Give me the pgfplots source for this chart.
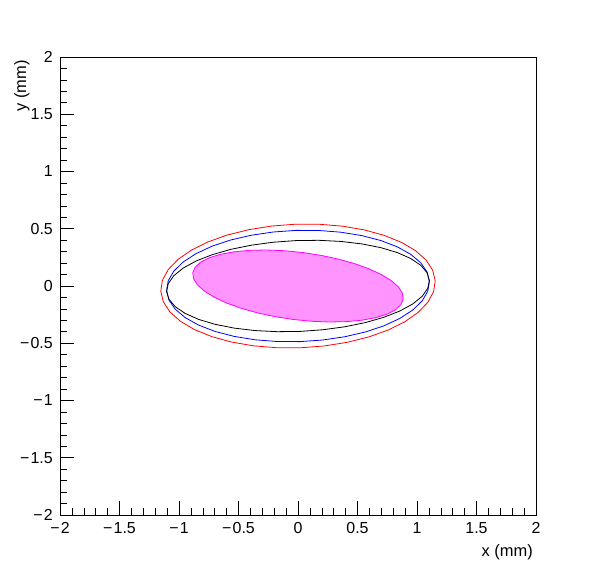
\documentclass[border=0pt]{standalone}
\usepackage{pgfplots}
\pgfplotsset{compat=1.18}
\usepackage{fontspec}
\setmainfont{Liberation Sans}
\definecolor{rootmag}{RGB}{255,0,255}
\newcommand{\mn}{−\kern1.2bp}
\begin{document}
\begin{tikzpicture}
\useasboundingbox (-60bp,-57bp) rectangle (536bp,515bp);
\begin{axis}[
  name=ax,
  at={(0,0)}, anchor=south west,
  scale only axis,
  width=476bp, height=458bp,
  xmin=-2, xmax=2, ymin=-2, ymax=2,
  xtick={-2,-1.5,-1,-0.5,0,0.5,1,1.5,2},
  xticklabels={\mn 2,\mn 1.5,\mn 1,\mn 0.5,0,0.5,1,1.5,2},
  ytick={-2,-1.5,-1,-0.5,0,0.5,1,1.5,2},
  yticklabels={\mn 2,\mn 1.5,\mn 1,\mn 0.5,0,0.5,1,1.5,2},
  minor tick num=4,
  tick align=inside,
  xtick pos=bottom, ytick pos=left,
  major tick length=14bp, minor tick length=7bp,
  every tick/.style={black, line width=0.6pt},
  axis line style={line width=0.6pt},
  tick label style={font=\fontsize{16}{18}\selectfont},
  xticklabel style={anchor=base, inner sep=0pt, yshift=-18.3bp},
  yticklabel style={anchor=east, inner sep=0pt, xshift=-7bp},
]
\addplot[draw=rootmag, line width=0.8pt, fill=rootmag!42] coordinates {
(0.8841,-0.1156) (0.8773,-0.0630) (0.8439,-0.0086) (0.7847,0.0462) (0.7018,0.0995) (0.5976,0.1498)
(0.4752,0.1955) (0.3383,0.2354) (0.1912,0.2680) (0.0383,0.2925) (-0.1158,0.3082) (-0.2665,0.3144)
(-0.4090,0.3111) (-0.5390,0.2984) (-0.6526,0.2765) (-0.7465,0.2464) (-0.8177,0.2086) (-0.8641,0.1646)
(-0.8841,0.1156) (-0.8773,0.0630) (-0.8439,0.0086) (-0.7847,-0.0462) (-0.7018,-0.0995) (-0.5976,-0.1498)
(-0.4752,-0.1955) (-0.3383,-0.2354) (-0.1912,-0.2680) (-0.0383,-0.2925) (0.1158,-0.3082) (0.2665,-0.3144)
(0.4090,-0.3111) (0.5390,-0.2984) (0.6526,-0.2765) (0.7465,-0.2464) (0.8177,-0.2086) (0.8641,-0.1646)
(0.8841,-0.1156)
};
\addplot[red, line width=0.8pt] coordinates {
(1.1531,0.0443) (1.1320,0.1373) (1.0765,0.2261) (0.9882,0.3082) (0.8700,0.3808) (0.7253,0.4418)
(0.5586,0.4895) (0.3749,0.5223) (0.1798,0.5391) (-0.0207,0.5396) (-0.2206,0.5237) (-0.4139,0.4919)
(-0.5946,0.4451) (-0.7571,0.3848) (-0.8966,0.3130) (-1.0090,0.2314) (-1.0907,0.1429) (-1.1392,0.0501)
(-1.1531,-0.0443) (-1.1320,-0.1373) (-1.0765,-0.2261) (-0.9882,-0.3082) (-0.8700,-0.3808) (-0.7253,-0.4418)
(-0.5586,-0.4895) (-0.3749,-0.5223) (-0.1798,-0.5391) (0.0207,-0.5396) (0.2206,-0.5237) (0.4139,-0.4919)
(0.5946,-0.4451) (0.7571,-0.3848) (0.8966,-0.3130) (1.0090,-0.2314) (1.0907,-0.1429) (1.1392,-0.0501)
(1.1531,0.0443)
};
\addplot[blue, line width=0.8pt] coordinates {
(1.1043,0.0386) (1.0846,0.1223) (1.0319,0.2023) (0.9478,0.2763) (0.8350,0.3417) (0.6968,0.3969)
(0.5375,0.4399) (0.3618,0.4696) (0.1750,0.4850) (-0.0170,0.4857) (-0.2084,0.4716) (-0.3936,0.4432)
(-0.5669,0.4013) (-0.7228,0.3473) (-0.8568,0.2827) (-0.9648,0.2095) (-1.0435,0.1299) (-1.0904,0.0463)
(-1.1043,-0.0386) (-1.0846,-0.1223) (-1.0319,-0.2023) (-0.9478,-0.2763) (-0.8350,-0.3417) (-0.6968,-0.3969)
(-0.5375,-0.4399) (-0.3618,-0.4696) (-0.1750,-0.4850) (0.0170,-0.4857) (0.2084,-0.4716) (0.3936,-0.4432)
(0.5669,-0.4013) (0.7228,-0.3473) (0.8568,-0.2827) (0.9648,-0.2095) (1.0435,-0.1299) (1.0904,-0.0463)
(1.1043,0.0386)
};
\addplot[black, line width=0.8pt] coordinates {
(1.1040,0.0482) (1.0842,0.1163) (1.0315,0.1809) (0.9474,0.2400) (0.8346,0.2918) (0.6964,0.3348)
(0.5370,0.3676) (0.3613,0.3892) (0.1746,0.3990) (-0.0173,0.3966) (-0.2088,0.3822) (-0.3939,0.3562)
(-0.5670,0.3194) (-0.7230,0.2728) (-0.8568,0.2180) (-0.9648,0.1566) (-1.0433,0.0903) (-1.0902,0.0213)
(-1.1040,-0.0482) (-1.0842,-0.1163) (-1.0315,-0.1809) (-0.9474,-0.2400) (-0.8346,-0.2918) (-0.6964,-0.3348)
(-0.5370,-0.3676) (-0.3613,-0.3892) (-0.1746,-0.3990) (0.0173,-0.3966) (0.2088,-0.3822) (0.3939,-0.3562)
(0.5670,-0.3194) (0.7230,-0.2728) (0.8568,-0.2180) (0.9648,-0.1566) (1.0433,-0.0903) (1.0902,-0.0213)
(1.1040,0.0482)
};
\end{axis}
\node[anchor=base east, inner sep=0pt, font=\fontsize{16.5}{18}\selectfont] at (473bp,-41bp) {x (mm)};
\node[rotate=90, anchor=base east, inner sep=0pt, font=\fontsize{16.5}{18}\selectfont] at (-34bp,455bp) {y (mm)};
\end{tikzpicture}
\end{document}
